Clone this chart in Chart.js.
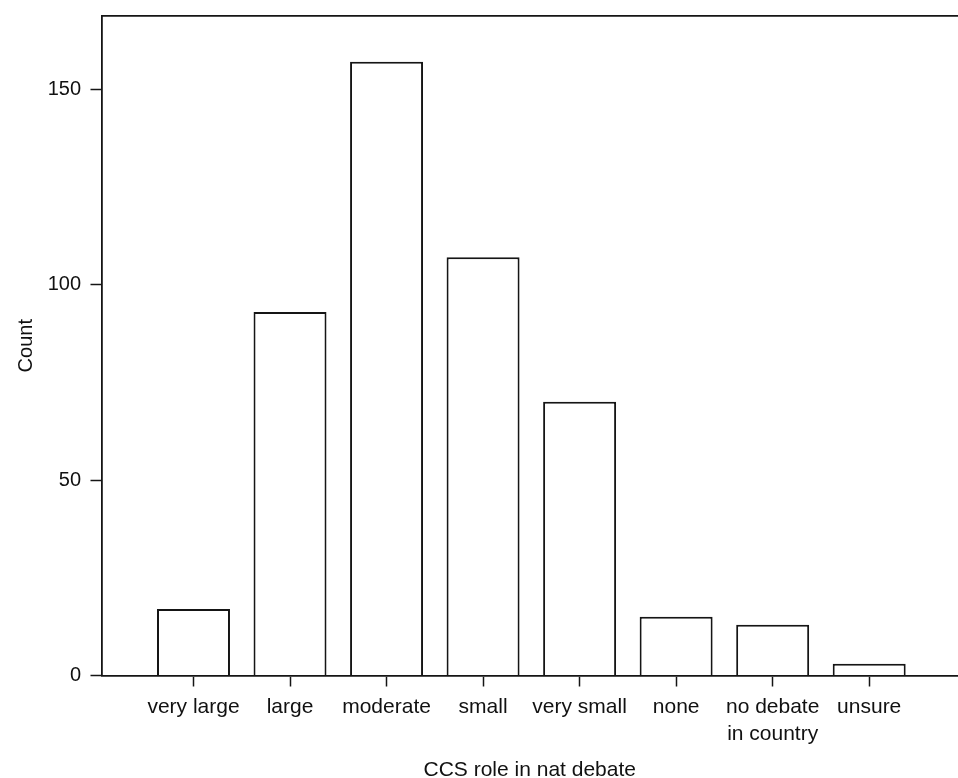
<!DOCTYPE html>
<html>
<head>
<meta charset="utf-8">
<title>CCS role in nat debate</title>
<script src="https://cdn.jsdelivr.net/npm/chart.js@4/dist/chart.umd.min.js"></script>
<style>
  html, body { margin: 0; padding: 0; background: #fff; overflow: hidden; }
  #wrap { position: relative; width: 958px; height: 778px; }
</style>
</head>
<body>
<div id="wrap"><canvas id="chart"></canvas></div>
<script>
// Survey answers: how large a role CCS plays in the national debate
const categories = ['very large', 'large', 'moderate', 'small', 'very small', 'none', ['no debate', 'in country'], 'unsure'];
const counts = [17, 93, 157, 107, 70, 15, 13, 3];
const yTickValues = [0, 50, 100, 150];

const INK = '#151515';
const FONT = "'Liberation Sans', Arial, sans-serif";

const points = counts.map((c, i) => ({ x: i, y: c }));
const categoryTicks = () => categories.map((_, i) => ({ value: i }));

new Chart(document.getElementById('chart'), {
  type: 'bar',
  data: {
    datasets: [{
      label: 'Count',
      data: points,
      backgroundColor: '#ffffff',
      borderColor: INK,
      borderWidth: 2,
      categoryPercentage: 1,
      barPercentage: 0.756
    }]
  },
  options: {
    responsive: true,
    maintainAspectRatio: false,
    devicePixelRatio: 1,
    animation: false,
    events: [],
    layout: { padding: { left: 0, right: 0, top: 16, bottom: 0 } },
    plugins: {
      legend: { display: false },
      tooltip: { enabled: false },
      title: { display: false }
    },
    scales: {
      x: {
        type: 'linear',
        position: 'bottom',
        offset: false,
        min: -0.953,
        max: 7.92,
        afterBuildTicks: s => { s.ticks = categoryTicks(); },
        afterFit: s => { s.height = 102.5; s.paddingLeft = 0; s.paddingRight = 0; },
        grid: {
          display: true,
          offset: false,
          drawOnChartArea: false,
          drawTicks: true,
          tickLength: 11,
          tickWidth: 1.5,
          tickColor: INK
        },
        border: { display: true, color: INK, width: 1.8 },
        ticks: {
          color: '#111',
          font: { family: FONT, size: 21, lineHeight: 1.25 },
          padding: 8,
          maxRotation: 0,
          autoSkip: false,
          callback: v => categories[v]
        },
        title: {
          display: true,
          text: 'CCS role in nat debate',
          color: '#111',
          font: { family: FONT, size: 21, lineHeight: 0.7 },
          padding: { top: 0, bottom: 0 }
        }
      },
      xTop: {
        type: 'linear',
        position: 'top',
        offset: false,
        min: -0.953,
        max: 7.92,
        afterFit: s => { s.height = 0; s.paddingLeft = 0; s.paddingRight = 0; },
        grid: { display: false, drawTicks: false },
        border: { display: true, color: INK, width: 1.8 },
        ticks: { display: false }
      },
      y: {
        type: 'linear',
        position: 'left',
        min: 0,
        max: 168.7,
        afterBuildTicks: s => { s.ticks = yTickValues.map(v => ({ value: v })); },
        afterFit: s => { s.width = 101.5; s.paddingTop = 0; s.paddingBottom = 0; },
        grid: {
          display: true,
          drawOnChartArea: false,
          drawTicks: true,
          tickLength: 11,
          tickWidth: 1.5,
          tickColor: INK
        },
        border: { display: true, color: INK, width: 1.8 },
        ticks: {
          color: '#111',
          font: { family: FONT, size: 20 },
          padding: 9.5
        },
        title: {
          display: true,
          text: 'Count',
          color: '#111',
          font: { family: FONT, size: 20, lineHeight: 1.2 },
          padding: { top: 14.5, bottom: 0 }
        }
      }
    }
  }
});
</script>
</body>
</html>
